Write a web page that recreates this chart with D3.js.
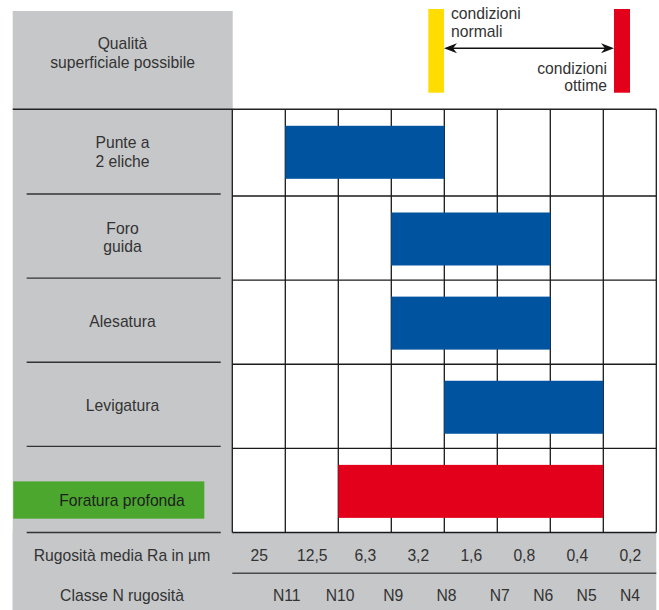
<!DOCTYPE html>
<html>
<head>
<meta charset="utf-8">
<script src="https://cdn.jsdelivr.net/npm/d3@7"></script>
<style>
  html, body { margin: 0; padding: 0; background: #ffffff; }
  svg { display: block; }
  text { font-family: "Liberation Sans", Arial, sans-serif; font-size: 15.7px; fill: #333333; }
</style>
</head>
<body>
<svg id="chart" width="659" height="610"></svg>
<script>
// ---- data ----
const raLabels = ["25", "12,5", "6,3", "3,2", "1,6", "0,8", "0,4", "0,2"];
const nClasses = ["N11", "N10", "N9", "N8", "N7", "N6", "N5", "N4"];
const processes = ["Punte a\n2 eliche", "Foro\nguida", "Alesatura", "Levigatura", "Foratura profonda"];
const rangeFrom = ["N11", "N9", "N9", "N8", "N10"];
const rangeTo = ["N8", "N6", "N6", "N5", "N5"];
const highlighted = ["Foratura profonda"];
const headerLines = ["Qualità", "superficiale possibile"];
const normalLines = ["condizioni", "normali"];
const optimalLines = ["condizioni", "ottime"];
const raTitle = "Rugosità media Ra in µm";
const nTitle = "Classe N rugosità";

// ---- layout ----
const svg = d3.select("#chart");
const GREY = "#c6c7c9", BLUE = "#00539f", RED = "#e2001a", GREEN = "#4ba72e", YELLOW = "#ffdd00";
const gridL = 232.3, gridR = 656.3, gridT = 109.3, gridB = 532.5;
const panelL = 12.7, panelR = 232.7, panelCx = 122.5;

// column boundary scale (index 0..8)
const xB = d3.scaleLinear().domain([0, raLabels.length]).range([gridL, gridR]);
// N-class boundary index: N11 is boundary 1, ...
const nIndex = d => nClasses.indexOf(d) + 1;
// N label positions
const xN = d3.scaleLinear().domain([0, 4, 7]).range([xB(1) + 1.5, xB(5) + 2.5, 630]);
// rows
const yRow = d3.scaleLinear().domain([0, 1, processes.length]).range([gridT, 196, gridB]);

// backgrounds
svg.append("rect").attr("x", panelL).attr("y", 11).attr("width", panelR - panelL).attr("height", 610 - 11).attr("fill", GREY);
svg.append("rect").attr("x", panelL).attr("y", gridB).attr("width", gridR - panelL).attr("height", 610 - gridB).attr("fill", GREY);
svg.append("rect").attr("x", gridL).attr("y", gridT).attr("width", gridR - gridL).attr("height", gridB - gridT).attr("fill", "#ffffff");

// grid lines
const grid = svg.append("g").attr("stroke", "#1a1a1a").attr("stroke-width", 1.3);
grid.selectAll("line.v").data(d3.range(0, raLabels.length + 1)).join("line")
  .attr("class", "v")
  .attr("x1", d => xB(d)).attr("x2", d => xB(d))
  .attr("y1", gridT).attr("y2", gridB);
grid.selectAll("line.h").data(d3.range(1, processes.length + 1)).join("line")
  .attr("class", "h")
  .attr("x1", gridL).attr("x2", gridR)
  .attr("y1", d => yRow(d)).attr("y2", d => yRow(d));
// top line across full width
svg.append("line").attr("x1", panelL).attr("x2", gridR).attr("y1", gridT).attr("y2", gridT)
  .attr("stroke", "#222").attr("stroke-width", 1.5);

// bars (drawn over the grid)
const barOff = 16.5, barH = 53;
svg.append("g").selectAll("rect").data(processes).join("rect")
  .attr("x", (d, i) => xB(nIndex(rangeFrom[i])))
  .attr("width", (d, i) => xB(nIndex(rangeTo[i])) - xB(nIndex(rangeFrom[i])))
  .attr("y", (d, i) => yRow(i) + barOff)
  .attr("height", barH)
  .attr("fill", d => highlighted.includes(d) ? RED : BLUE);

// left panel separators
svg.append("g").selectAll("line").data(d3.range(1, processes.length + 1)).join("line")
  .attr("x1", 26.7).attr("x2", 220.7)
  .attr("y1", d => d === processes.length ? yRow(d) : yRow(d) - 2)
  .attr("y2", d => d === processes.length ? yRow(d) : yRow(d) - 2)
  .attr("stroke", "#333").attr("stroke-width", 1.4);

// line below Ra row
svg.append("line").attr("x1", gridL).attr("x2", gridR).attr("y1", 573.3).attr("y2", 573.3)
  .attr("stroke", "#4a4a4a").attr("stroke-width", 1.5);

// header text
svg.append("text").attr("text-anchor", "middle").attr("x", panelCx).attr("y", 49.3)
  .selectAll("tspan").data(headerLines).join("tspan")
  .attr("x", panelCx).attr("dy", (d, i) => i === 0 ? 0 : 19)
  .text(d => d);

// process labels
processes.forEach((p, i) => {
  const cy = (yRow(i) + yRow(i + 1)) / 2;
  if (highlighted.includes(p)) {
    const by = yRow(i) + barOff;
    svg.append("rect").attr("x", 13.3).attr("y", by + 16.5).attr("width", 191).attr("height", 37.3).attr("fill", GREEN);
    svg.append("text").attr("text-anchor", "middle").attr("x", 122).attr("y", by + 16.5 + 24.3)
      .style("fill", "#1e1e1e").text(p);
  } else {
    const lines = p.split("\n");
    const t = svg.append("text").attr("text-anchor", "middle").attr("x", panelCx)
      .attr("y", cy + 5 - (lines.length - 1) * 9.25);
    t.selectAll("tspan").data(lines).join("tspan")
      .attr("x", panelCx).attr("dy", (d, j) => j === 0 ? 0 : 18.5).text(d => d);
  }
});

// Ra row
svg.append("text").attr("text-anchor", "middle").attr("x", panelCx - 0.5).attr("y", 560.7).text(raTitle);
svg.append("g").selectAll("text").data(raLabels).join("text")
  .attr("text-anchor", "middle")
  .attr("x", (d, i) => xB(i + 0.5) + 0.5)
  .attr("y", 560.7).text(d => d);

// N row
svg.append("text").attr("text-anchor", "middle").attr("x", panelCx - 0.5).attr("y", 600.5).text(nTitle);
svg.append("g").selectAll("text").data(nClasses).join("text")
  .attr("text-anchor", "middle")
  .attr("x", (d, i) => xN(i))
  .attr("y", 600.5).text(d => d);

// legend: conditions
const yL = 9, hL = 83.7;
svg.append("rect").attr("x", 428.3).attr("y", yL).attr("width", 15.7).attr("height", hL).attr("fill", YELLOW);
svg.append("rect").attr("x", 614).attr("y", yL).attr("width", 16).attr("height", hL).attr("fill", RED);
const ay = 48.3, ax1 = 444, ax2 = 614;
svg.append("line").attr("x1", ax1 + 6).attr("x2", ax2 - 6).attr("y1", ay).attr("y2", ay)
  .attr("stroke", "#111").attr("stroke-width", 1.4);
svg.append("path")
  .attr("d", `M${ax1},${ay} L${ax1 + 13},${ay - 5} L${ax1 + 9},${ay} L${ax1 + 13},${ay + 5} Z`)
  .attr("fill", "#111");
svg.append("path")
  .attr("d", `M${ax2},${ay} L${ax2 - 13},${ay - 5} L${ax2 - 9},${ay} L${ax2 - 13},${ay + 5} Z`)
  .attr("fill", "#111");
svg.append("text").attr("x", 451).attr("y", 19)
  .selectAll("tspan").data(normalLines).join("tspan")
  .attr("x", 451).attr("dy", (d, i) => i === 0 ? 0 : 17.7).text(d => d);
svg.append("text").attr("x", 607).attr("y", 74).attr("text-anchor", "end")
  .selectAll("tspan").data(optimalLines).join("tspan")
  .attr("x", 607).attr("dy", (d, i) => i === 0 ? 0 : 17).text(d => d);
</script>
</body>
</html>
